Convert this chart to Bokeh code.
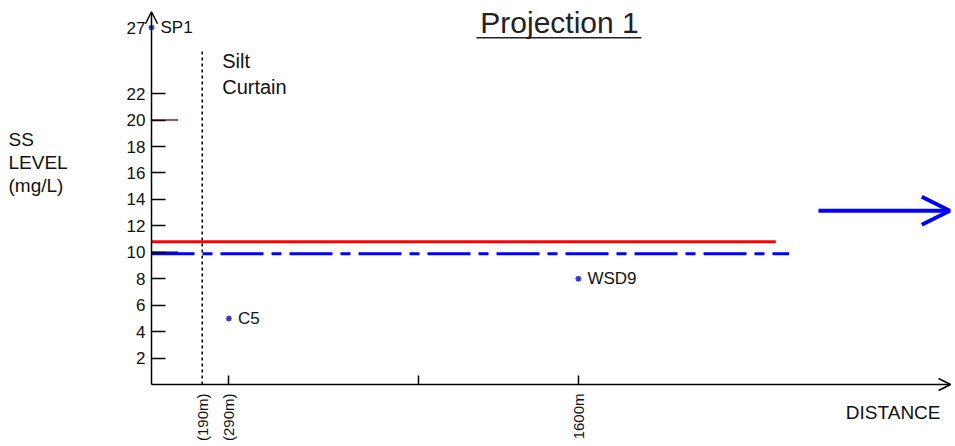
import math
from bokeh.plotting import figure
from bokeh.models import (Range1d, FixedTicker, Arrow, OpenHead, Label, BoxAnnotation,
                          ColumnDataSource)
from bokeh.core.properties import value
from bokeh.embed import file_html
from bokeh.resources import INLINE

# ---- data ----
point_names = ["SP1", "C5", "WSD9"]
point_dist = [0, 290, 1600]
point_ss = [27, 5, 8]

y_tick_marks = [2, 4, 6, 8, 10, 12, 14, 16, 18, 20, 22]
y_tick_labels = [2, 4, 6, 8, 10, 12, 14, 16, 18, 20, 22, 27]

x_label_ticks = [190, 290, 1600]
x_label_text = ["(190m)", "(290m)", "1600m"]
x_tick_marks = [290, 1000, 1600]

silt_curtain_x = 190
silt_curtain_top = 25.3

red_level = 10.8
red_end = 2340
blue_level = 9.9
blue_end = 2390

long_tick_levels = [20, 10]
long_tick_colors = ["#8a1c2c", "black"]
long_tick_len = 100

direction_arrow_x = [2500, 2992]
direction_arrow_y = 13.15

X_AXIS_END = 2995
Y_AXIS_END = 28.2

FONT = "Liberation Sans"

# the frame covers the whole canvas; axes sit at distance 0 / level 0
p = figure(width=953, height=444, output_backend="svg", toolbar_location=None,
           x_range=Range1d(-566, 3006), y_range=Range1d(-4.54, 29.05),
           min_border_left=0, min_border_right=0, min_border_top=0, min_border_bottom=0)
p.outline_line_color = None
p.xgrid.visible = False
p.ygrid.visible = False
p.background_fill_color = "white"

# y axis
ya = p.yaxis[0]
ya.fixed_location = 0
ya.ticker = FixedTicker(ticks=y_tick_labels, minor_ticks=y_tick_marks)
ya.major_tick_in = 0
ya.major_tick_out = 0
ya.minor_tick_in = 14
ya.minor_tick_out = 0
ya.minor_tick_line_width = 1.5
ya.minor_tick_line_color = "black"
ya.axis_line_color = None
ya.major_label_standoff = 6
ya.major_label_text_font = FONT
ya.major_label_text_font_size = "17px"
ya.major_label_text_color = "#111111"

# x axis
xa = p.xaxis[0]
xa.fixed_location = 0
xa.ticker = FixedTicker(ticks=x_label_ticks, minor_ticks=x_tick_marks)
xa.major_label_overrides = {t: s for t, s in zip(x_label_ticks, x_label_text)}
xa.major_tick_in = 0
xa.major_tick_out = 0
xa.minor_tick_in = 9
xa.minor_tick_out = 0
xa.minor_tick_line_width = 1.5
xa.minor_tick_line_color = "black"
xa.axis_line_color = None
xa.major_label_orientation = math.pi / 2
xa.major_label_standoff = 9
xa.major_label_text_font = FONT
xa.major_label_text_font_size = "15px"
xa.major_label_text_color = "#111111"

# axis lines with arrow heads
p.add_layout(Arrow(end=OpenHead(size=12, line_width=1.5, line_color="black"),
                   x_start=0, y_start=0, x_end=0, y_end=Y_AXIS_END,
                   line_width=1.5, line_color="black"))
p.add_layout(Arrow(end=OpenHead(size=12, line_width=1.5, line_color="black"),
                   x_start=0, y_start=0, x_end=X_AXIS_END, y_end=0,
                   line_width=1.5, line_color="black"))

# long ticks at 20 and 10
p.segment(x0=[0] * len(long_tick_levels), x1=[long_tick_len] * len(long_tick_levels),
          y0=long_tick_levels, y1=long_tick_levels, line_color=long_tick_colors, line_width=1.5)

# silt curtain
p.segment(x0=[silt_curtain_x], x1=[silt_curtain_x], y0=[0], y1=[silt_curtain_top],
          line_color="black", line_width=1.5, line_dash="3 3")
p.text(x=[silt_curtain_x], y=[silt_curtain_top], text=["Silt\nCurtain"], x_offset=20,
       text_baseline="top", text_align="left", text_font=value(FONT),
       text_font_size="20px", text_color="#111111", text_line_height=1.2)

# limit lines
p.line(x=[0, red_end], y=[red_level, red_level], line_color="#ff0000", line_width=3)
p.line(x=[0, blue_end], y=[blue_level, blue_level], line_color="#0000ff", line_width=3,
       line_dash="43 8 10 8")

# points
src = ColumnDataSource(dict(x=point_dist, y=point_ss, name=point_names))
p.scatter(x="x", y="y", source=src, marker="asterisk", size=6, line_color="#3535c8", line_width=1.5)
p.text(x="x", y="y", text="name", source=src, x_offset=9, text_baseline="middle",
       text_align="left", text_font=value(FONT), text_font_size="17px", text_color="#111111")

# direction arrow
p.add_layout(Arrow(end=OpenHead(size=28, line_width=4, line_color="#0000ff"),
                   x_start=direction_arrow_x[0], y_start=direction_arrow_y,
                   x_end=direction_arrow_x[1], y_end=direction_arrow_y,
                   line_width=4, line_color="#0000ff"))

# title (screen units measured from the frame's lower-left corner)
p.add_layout(Label(x=559, y=422, x_units="screen", y_units="screen", text="Projection 1",
                   text_align="center", text_baseline="middle", text_font=FONT,
                   text_font_size="30px", text_color="#222222"))
p.add_layout(BoxAnnotation(left=476, right=641, bottom=406, top=407.5,
                           left_units="screen", right_units="screen",
                           bottom_units="screen", top_units="screen",
                           fill_color="#222222", fill_alpha=1, line_color=None))

# y axis caption
p.add_layout(Label(x=8, y=316, x_units="screen", y_units="screen", text="SS\nLEVEL\n(mg/L)",
                   text_align="left", text_baseline="top", text_font=FONT,
                   text_font_size="19px", text_color="#111111", text_line_height=1.1))

# x axis caption
p.add_layout(Label(x=940, y=32, x_units="screen", y_units="screen", text="DISTANCE",
                   text_align="right", text_baseline="middle", text_font=FONT,
                   text_font_size="19px", text_color="#111111"))

open("out.html", "w").write(file_html(p, INLINE))
